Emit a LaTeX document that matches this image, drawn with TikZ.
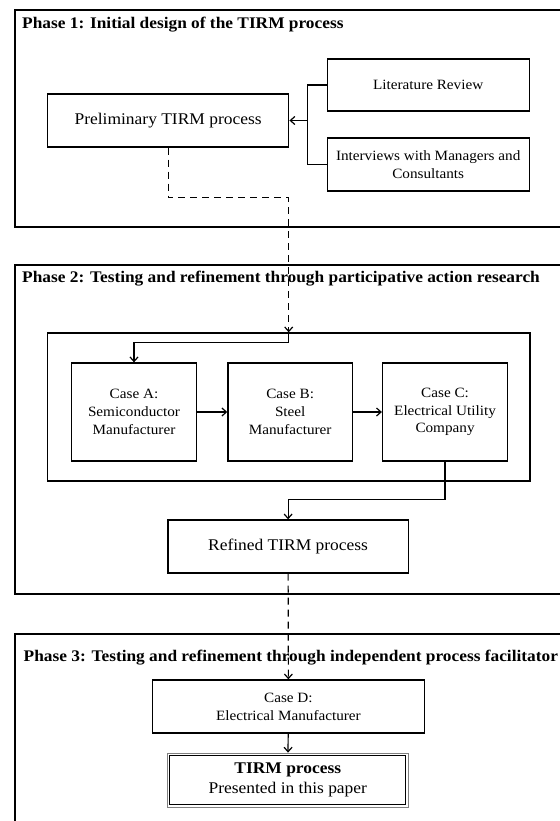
\documentclass[tikz,border=0pt]{standalone}
\usepackage{fontspec}
\setmainfont{Liberation Serif}[FakeStretch=1.07]
\usepackage{tikz}
\usetikzlibrary{arrows.meta,positioning,calc}

\begin{document}
\begin{tikzpicture}[
  x=1pt,y=-1pt,
  phase/.style={rectangle,draw,line width=1.6pt,anchor=north west,inner sep=0pt},
  ttl/.style={anchor=west,inner sep=0pt,font=\fontsize{16.2}{19}\selectfont\bfseries},
  bx/.style={rectangle,draw,line width=1.3pt,fill=white,align=center,inner sep=2pt,
    font=\fontsize{16.3}{20.5}\selectfont},
  sbx/.style={rectangle,draw,line width=1.3pt,fill=white,align=center,inner sep=2pt,
    font=\fontsize{14.2}{17.8}\selectfont},
  ar/.style={-{Straight Barb[length=4.5pt,width=8pt]},line width=1.2pt},
  ln/.style={line width=1.2pt},
  da/.style={ar,dash pattern=on 7pt off 5pt}
]
\useasboundingbox (0,0) rectangle (559,821);

% phases
\node[phase,minimum width=552,minimum height=217] (ph1) at (14,9) {};
\node[ttl] (t1) at (22,25) {Phase 1: Initial design of the TIRM process};
\node[phase,minimum width=552,minimum height=329] (ph2) at (14,264) {};
\node[ttl] (t2) at (22,279) {Phase 2: Testing and refinement through participative action research};
\node[phase,minimum width=552,minimum height=200] (ph3) at (14,633) {};
\node[ttl] (t3) at (23.5,658) {Phase 3: Testing and refinement through independent process facilitator};

% phase 1
\node[sbx,minimum width=202,minimum height=52] (lit) at (428.2,85) {Literature Review};
\node[sbx,minimum width=202,minimum height=53] (intv) at (428.2,164.5) {Interviews with Managers and\\Consultants};
\node[bx,minimum width=241.4,minimum height=53] (prelim) at (168.1,120.5) {Preliminary TIRM process};
\coordinate (jn) at (307.3,120.5);

% phase 2
\node[rectangle,draw,line width=1.3pt,minimum width=482.6,minimum height=148] (inner) at (288.7,407) {};
\node[sbx,minimum width=124.7,minimum height=98] (caseA) at (134,412) {Case A:\\Semiconductor\\Manufacturer};
\node[sbx,minimum width=124.5,minimum height=98,right=30.3 of caseA] (caseB) {Case B:\\Steel\\Manufacturer};
\node[sbx,minimum width=125,minimum height=98,right=28.8 of caseB] (caseC) {Case C:\\Electrical Utility\\Company};
\node[bx,minimum width=240.2,minimum height=53] (refined) at (288.1,546.5) {Refined TIRM process};

% phase 3
\node[sbx,minimum width=271.6,minimum height=53] (caseD) at (288.4,706.5) {Case D:\\Electrical Manufacturer};
\node[bx,minimum width=240.4,minimum height=54,draw=gray,line width=0.8pt] (tirm) at (287.8,780)
  {\textbf{TIRM process}\\Presented in this paper};
\draw[line width=1.1pt] ($(tirm.south west)+(2.6,-2.6)$) rectangle ($(tirm.north east)+(-2.6,2.6)$);

% connectors
\draw[ln] (lit.west) -| (jn);
\draw[ln] (intv.west) -| (jn);
\draw[ar] (jn) -- (prelim.east);
\draw[da] (prelim.south) -- ++(0,50) -| (inner.north);
\draw[ar] (inner.north) -- ++(0,10) -| (caseA.north);
\draw[ar] (caseA) -- (caseB);
\draw[ar] (caseB) -- (caseC);
\draw[ar] (caseC.south) -- ++(0,38) -| (refined.north);
\draw[da] (refined.south) -- (caseD.north);
\draw[ar] (caseD) -- (tirm);
\end{tikzpicture}
\end{document}
